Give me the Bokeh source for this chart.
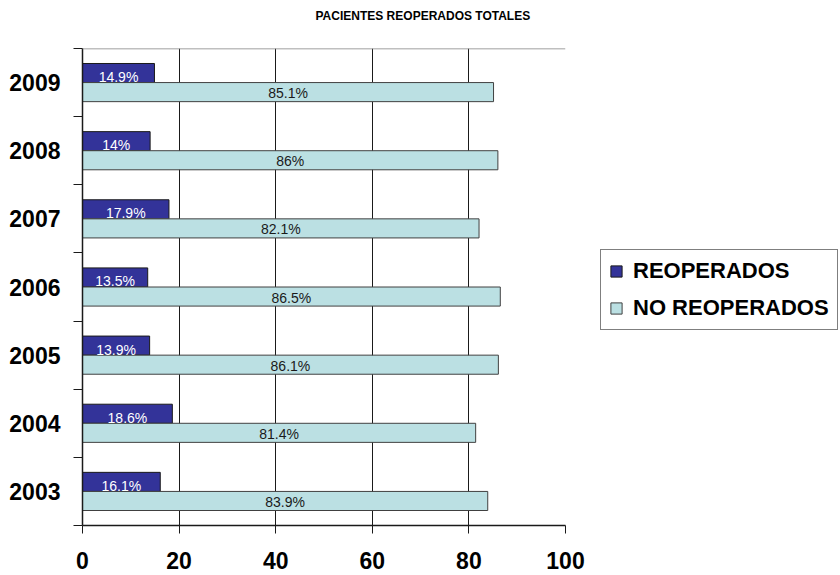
from bokeh.plotting import figure
from bokeh.layouts import row
from bokeh.models import Range1d, FixedTicker, Legend, LegendItem, Span, ColumnDataSource, Title
from bokeh.core.properties import value
from bokeh.embed import file_html
from bokeh.resources import INLINE

# Data: share of patients reoperated / not reoperated per year (%)
years = ["2003", "2004", "2005", "2006", "2007", "2008", "2009"]
reoperados = [16.1, 18.6, 13.9, 13.5, 17.9, 14.0, 14.9]
no_reoperados = [83.9, 81.4, 86.1, 86.5, 82.1, 86.0, 85.1]
x_ticks = [0, 20, 40, 60, 80, 100]
series_names = ["REOPERADOS", "NO REOPERADOS"]

FONT = "Liberation Sans"
DARK = "#333399"
LIGHT = "#BBE0E3"
DARK_EDGE = "#1a1a1a"
LIGHT_EDGE = "#404040"
BAR_H = 0.28

centers = [i + 0.5 for i in range(len(years))]
bounds = list(range(len(years) + 1))

src = ColumnDataSource(dict(
    y_reop=[c + BAR_H / 2 for c in centers],
    y_noreop=[c - BAR_H / 2 for c in centers],
    reop=reoperados,
    noreop=no_reoperados,
    reop_mid=[v / 2 for v in reoperados],
    noreop_mid=[v / 2 for v in no_reoperados],
    reop_lbl=[f"{v:g}%" for v in reoperados],
    noreop_lbl=[f"{v:g}%" for v in no_reoperados],
))

p = figure(width=590, height=575, output_backend="svg", toolbar_location=None,
           x_range=Range1d(0, 100), y_range=Range1d(0, len(years)),
           min_border_left=82, min_border_right=25, min_border_top=48, min_border_bottom=50)
p.outline_line_color = None
p.background_fill_color = "white"
p.border_fill_color = "white"

# Title, with an empty spacer panel between it and the plot area
p.title.text = "PACIENTES REOPERADOS TOTALES"
p.title.text_font = FONT
p.title.text_font_size = "12px"
p.title.text_font_style = "bold"
p.title.text_color = "black"
p.title.align = "left"
p.title.offset = 233
p.add_layout(Title(text=" ", text_font_size="4px", standoff=14), "above")

# Grid: vertical lines only
p.ygrid.visible = False
p.xgrid.ticker = FixedTicker(ticks=x_ticks[1:])
p.xgrid.grid_line_color = "#1a1a1a"
p.xgrid.grid_line_width = 1
p.add_layout(Span(location=len(years), dimension="width", line_color="#808080", line_width=1.5))

# Bars
p.hbar(y="y_reop", left=0, right="reop", height=BAR_H, source=src,
       fill_color=DARK, line_color=DARK_EDGE, line_width=1)
p.hbar(y="y_noreop", left=0, right="noreop", height=BAR_H, source=src,
       fill_color=LIGHT, line_color=LIGHT_EDGE, line_width=1)

# Value labels
p.text(x="reop_mid", y="y_reop", text="reop_lbl", source=src, text_color="white",
       text_font=value(FONT), text_font_size="14px", text_align="center",
       text_baseline="middle", y_offset=4)
p.text(x="noreop_mid", y="y_noreop", text="noreop_lbl", source=src, text_color="#1a1a1a",
       text_font=value(FONT), text_font_size="14px", text_align="center",
       text_baseline="middle", y_offset=1)

# X axis
xa = p.xaxis[0]
xa.ticker = FixedTicker(ticks=x_ticks)
xa.axis_line_color = "#1a1a1a"
xa.axis_line_width = 1.5
xa.major_tick_out = 8
xa.major_tick_in = 0
xa.major_tick_line_color = "#1a1a1a"
xa.minor_tick_line_color = None
xa.major_label_text_font = FONT
xa.major_label_text_font_size = "23px"
xa.major_label_text_font_style = "bold"
xa.major_label_text_color = "black"
xa.major_label_standoff = 18

# Y axis: year labels at band centres, tick marks at band boundaries
ya = p.yaxis[0]
ya.ticker = FixedTicker(ticks=centers, minor_ticks=bounds)
ya.major_label_overrides = {c: y for c, y in zip(centers, years)}
ya.axis_line_color = "#1a1a1a"
ya.axis_line_width = 1.5
ya.major_tick_out = 0
ya.major_tick_in = 0
ya.minor_tick_out = 9
ya.minor_tick_in = 0
ya.minor_tick_line_color = "#1a1a1a"
ya.major_label_text_font = FONT
ya.major_label_text_font_size = "23px"
ya.major_label_text_font_style = "bold"
ya.major_label_text_color = "black"
ya.major_label_standoff = 13

# Legend panel to the right of the chart (key glyphs sit outside its visible range)
pl = figure(width=250, height=575, output_backend="svg", toolbar_location=None,
            x_range=Range1d(0, 1), y_range=Range1d(0, 1), min_border=0,
            x_axis_location=None, y_axis_location=None)
pl.grid.visible = False
pl.outline_line_color = None
pl.background_fill_color = "white"
pl.border_fill_color = "white"
key_src = ColumnDataSource(dict(y=[-5], left=[5], right=[6]))
k1 = pl.hbar(y="y", left="left", right="right", height=0.1, source=key_src,
             fill_color=DARK, line_color=DARK_EDGE, line_width=1)
k2 = pl.hbar(y="y", left="left", right="right", height=0.1, source=key_src,
             fill_color=LIGHT, line_color=LIGHT_EDGE, line_width=1)

legend = Legend(items=[LegendItem(label=series_names[0], renderers=[k1]),
                       LegendItem(label=series_names[1], renderers=[k2])],
                location=(10, 195))
legend.label_text_font = FONT
legend.label_text_font_size = "22px"
legend.label_text_font_style = "bold"
legend.label_text_color = "black"
legend.glyph_width = 14
legend.glyph_height = 14
legend.label_standoff = 10
legend.padding = 8
legend.spacing = 11
legend.border_line_color = "black"
legend.border_line_width = 1
legend.background_fill_alpha = 1
legend.margin = 0
pl.add_layout(legend)

layout = row(p, pl)
open("out.html", "w").write(file_html(layout, INLINE))
